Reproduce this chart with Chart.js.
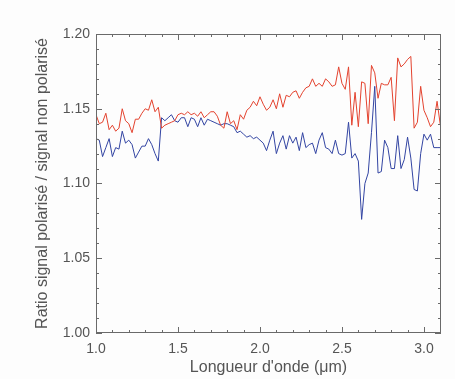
<!DOCTYPE html>
<html>
<head>
<meta charset="utf-8">
<script src="https://cdn.jsdelivr.net/npm/chart.js@4/dist/chart.umd.min.js"></script>
<style>
  html, body { margin: 0; padding: 0; background: #fdfdfd; }
  #wrap { width: 455px; height: 379px; }
</style>
</head>
<body>
<div id="wrap"><canvas id="c" width="455" height="379"></canvas></div>
<script>
const wavelengths = [
  1.00,1.02,1.04,1.06,1.08,1.10,1.12,1.14,1.16,1.18,
  1.20,1.22,1.24,1.26,1.28,1.30,1.32,1.34,1.36,1.38,
  1.40,1.42,1.44,1.46,1.48,1.50,1.52,1.54,1.56,1.58,
  1.60,1.62,1.64,1.66,1.68,1.70,1.72,1.74,1.76,1.78,
  1.80,1.82,1.84,1.86,1.88,1.90,1.92,1.94,1.96,1.98,
  2.00,2.02,2.04,2.06,2.08,2.10,2.12,2.14,2.16,2.18,
  2.20,2.22,2.24,2.26,2.28,2.30,2.32,2.34,2.36,2.38,
  2.40,2.42,2.44,2.46,2.48,2.50,2.52,2.54,2.56,2.58,
  2.60,2.62,2.64,2.66,2.68,2.70,2.72,2.74,2.76,2.78,
  2.80,2.82,2.84,2.86,2.88,2.90,2.92,2.94,2.96,2.98,
  3.00,3.02,3.04,3.06,3.08,3.10
];
const ratioRed = [
  1.146,1.140,1.141,1.147,1.136,1.139,1.135,1.137,1.150,1.142,
  1.140,1.134,1.143,1.143,1.147,1.150,1.149,1.156,1.148,1.151,
  1.137,1.139,1.140,1.141,1.142,1.146,1.147,1.146,1.148,1.146,
  1.147,1.145,1.148,1.144,1.146,1.148,1.148,1.145,1.139,1.137,
  1.148,1.140,1.142,1.136,1.146,1.143,1.149,1.151,1.155,1.152,
  1.158,1.153,1.149,1.151,1.156,1.150,1.160,1.151,1.159,1.158,
  1.161,1.162,1.157,1.161,1.164,1.165,1.170,1.165,1.167,1.165,
  1.170,1.168,1.165,1.166,1.178,1.167,1.163,1.178,1.139,1.161,
  1.138,1.168,1.167,1.140,1.179,1.174,1.157,1.167,1.166,1.166,
  1.171,1.142,1.184,1.178,1.180,1.183,1.185,1.137,1.141,1.165,
  1.149,1.144,1.138,1.141,1.155,1.139
];
const ratioBlue = [
  1.130,1.129,1.118,1.124,1.130,1.118,1.124,1.123,1.135,1.127,
  1.129,1.126,1.117,1.121,1.125,1.125,1.130,1.126,1.120,1.115,
  1.144,1.142,1.144,1.146,1.142,1.141,1.144,1.144,1.138,1.144,
  1.143,1.138,1.144,1.139,1.143,1.142,1.141,1.140,1.139,1.140,
  1.140,1.139,1.138,1.134,1.135,1.133,1.131,1.132,1.130,1.131,
  1.129,1.127,1.122,1.129,1.135,1.120,1.127,1.132,1.123,1.132,
  1.127,1.131,1.122,1.134,1.124,1.126,1.127,1.120,1.129,1.134,
  1.124,1.123,1.120,1.129,1.120,1.119,1.120,1.141,1.117,1.120,
  1.115,1.076,1.100,1.107,1.134,1.165,1.107,1.108,1.129,1.124,
  1.110,1.110,1.132,1.110,1.116,1.131,1.117,1.096,1.095,1.120,
  1.133,1.129,1.133,1.124,1.124,1.124
];
const xTickLabels = [1.0, 1.5, 2.0, 2.5, 3.0];
const yTickLabels = [1.00, 1.05, 1.10, 1.15, 1.20];

const TEXT = '#555555';
const FRAME = '#6a6a6a';
const FONT = "'Liberation Sans', Arial, sans-serif";

const bgPlugin = {
  id: 'bg',
  beforeDraw(chart) {
    const ctx = chart.ctx;
    ctx.save();
    ctx.fillStyle = '#fdfdfd';
    ctx.fillRect(0, 0, chart.width, chart.height);
    ctx.restore();
  }
};

const frameTicks = {
  id: 'frameTicks',
  afterDatasetsDraw(chart) {
    const { ctx, chartArea: a, scales: { x, y } } = chart;
    ctx.save();
    ctx.strokeStyle = FRAME;
    ctx.lineWidth = 1;
    ctx.strokeRect(Math.round(a.left) + 0.5, Math.round(a.top) + 0.5,
                   Math.round(a.right - a.left) - 1, Math.round(a.bottom - a.top) - 1);
    ctx.beginPath();
    for (let k = 10; k <= 31; k++) {
      const px = Math.round(x.getPixelForValue(k / 10)) + 0.5;
      const len = (k % 5 === 0) ? 6 : 3;
      ctx.moveTo(px, a.bottom); ctx.lineTo(px, a.bottom - len);
      ctx.moveTo(px, a.top); ctx.lineTo(px, a.top + len);
    }
    for (let k = 100; k <= 120; k++) {
      const py = Math.round(y.getPixelForValue(k / 100)) + 0.5;
      const len = (k % 5 === 0) ? 6 : 3;
      ctx.moveTo(a.left, py); ctx.lineTo(a.left + len, py);
      ctx.moveTo(a.right, py); ctx.lineTo(a.right - len, py);
    }
    ctx.stroke();
    ctx.restore();
  }
};

new Chart(document.getElementById('c'), {
  type: 'line',
  data: {
    datasets: [
      {
        label: 'rouge',
        data: wavelengths.map((w, i) => ({ x: w, y: ratioRed[i] })),
        borderColor: '#e4432f',
        borderWidth: 1,
        pointRadius: 0,
        tension: 0,
        fill: false
      },
      {
        label: 'bleu',
        data: wavelengths.map((w, i) => ({ x: w, y: ratioBlue[i] })),
        borderColor: '#3345a3',
        borderWidth: 1,
        pointRadius: 0,
        tension: 0,
        fill: false
      }
    ]
  },
  options: {
    responsive: false,
    animation: false,
    devicePixelRatio: 1,
    layout: { padding: { left: 0, right: 14, top: 34, bottom: 0 } },
    plugins: { legend: { display: false }, tooltip: { enabled: false } },
    scales: {
      x: {
        type: 'linear',
        min: 1.0,
        max: 3.104,
        afterFit(s) { s.height = 46; },
        afterBuildTicks(s) { s.ticks = xTickLabels.map(v => ({ value: v })); },
        grid: { display: false, drawTicks: false },
        border: { display: false },
        ticks: {
          color: TEXT,
          font: { family: FONT, size: 14 },
          padding: 8,
          maxRotation: 0,
          autoSkip: false,
          callback: v => Number(v).toFixed(1)
        },
        title: {
          display: true,
          text: "Longueur d'onde (\u03bcm)",
          color: TEXT,
          font: { family: FONT, size: 16 },
          padding: { top: 0, bottom: 2 }
        }
      },
      y: {
        type: 'linear',
        min: 1.0,
        max: 1.2,
        afterFit(s) { s.width = 96; },
        afterBuildTicks(s) { s.ticks = yTickLabels.map(v => ({ value: v })); },
        grid: { display: false, drawTicks: false },
        border: { display: false },
        ticks: {
          color: TEXT,
          font: { family: FONT, size: 14 },
          padding: 6,
          autoSkip: false,
          callback: v => Number(v).toFixed(2)
        },
        title: {
          display: true,
          text: 'Ratio signal polaris\u00e9 / signal non polaris\u00e9',
          color: TEXT,
          font: { family: FONT, size: 16 },
          padding: { top: 33, bottom: 0 }
        }
      }
    }
  },
  plugins: [bgPlugin, frameTicks]
});
</script>
</body>
</html>
